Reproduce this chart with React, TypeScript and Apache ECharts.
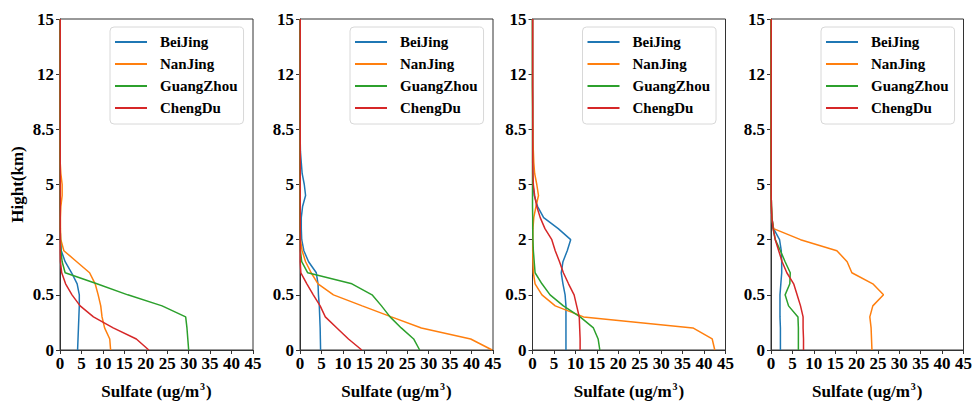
import React, { useEffect, useRef } from 'react';
import * as echarts from 'echarts';

const cities = ['BeiJing', 'NanJing', 'GuangZhou', 'ChengDu'];
const cityColors = ['#1f77b4', '#ff7f0e', '#2ca02c', '#d62728'];
const heightTickLabels = ['0', '0.5', '2', '5', '8.5', '12', '15'];

// Sulfate (ug/m3) per vertical level index 0..30 (bottom to top)
const p1BeiJing = [4.1, 4.2, 4.3, 4.4, 4.5, 4.5, 4.0, 2.7, 1.2, 0.3,
  0.1, 0.05, 0.05, 0.05, 0.05, 0.05, 0.05, 0.05, 0.05, 0.05,
  0.05, 0.05, 0.05, 0.05, 0, 0, 0, 0, 0, 0, 0];
const p1NanJing = [11.8, 11.6, 10.4, 9.8, 9.5, 8.9, 8.2, 6.9, 3.9, 0.9,
  0.2, 0.1, 0.1, 0.2, 0.5, 0.5, 0.2, 0.05, 0, 0,
  0, 0, 0, 0, 0, 0, 0, 0, 0, 0, 0];
const p1GuangZhou = [30.0, 29.8, 29.6, 29.3, 23.8, 15.8, 8.6, 1.2, 0.5, 0.2,
  0.1, 0.05, 0.05, 0, 0, 0, 0, 0, 0, 0,
  0, 0, 0, 0, 0, 0, 0, 0, 0, 0, 0];
const p1ChengDu = [20.7, 17.8, 12.4, 7.8, 4.7, 2.8, 1.3, 0.4, 0.1, 0.05,
  0.05, 0.05, 0.05, 0.05, 0.05, 0.05, 0.05, 0.05, 0.05, 0.05,
  0.05, 0.05, 0.05, 0.05, 0.05, 0.05, 0.05, 0.05, 0.05, 0.05, 0.05];

const p2BeiJing = [4.8, 4.75, 4.7, 4.6, 4.5, 4.3, 4.2, 3.8, 2.0, 0.9,
  0.4, 0.3, 0.3, 0.6, 1.3, 1.0, 0.5, 0.3, 0.1, 0.05,
  0.05, 0.05, 0, 0, 0, 0, 0, 0, 0, 0, 0];
const p2NanJing = [44.8, 39.8, 28.3, 21.3, 14.5, 7.8, 4.2, 2.6, 1.3, 0.5,
  0.1, 0.05, 0, 0, 0, 0, 0, 0, 0, 0,
  0, 0, 0, 0, 0, 0, 0, 0, 0, 0, 0];
const p2GuangZhou = [27.9, 26.5, 23.6, 21.0, 19.0, 16.8, 12.1, 1.8, 0.4, 0.1,
  0.05, 0, 0, 0, 0, 0, 0, 0, 0, 0,
  0, 0, 0, 0, 0, 0, 0, 0, 0, 0, 0];
const p2ChengDu = [14.4, 11.3, 8.6, 5.9, 4.7, 3.1, 1.6, 0.2, 0.05, 0.05,
  0.05, 0.05, 0.05, 0.05, 0.05, 0.05, 0.05, 0.05, 0.05, 0.05,
  0.05, 0.05, 0.05, 0.05, 0.05, 0.05, 0.05, 0.05, 0.05, 0.05, 0.05];

const p3BeiJing = [7.8, 7.8, 7.8, 7.8, 7.8, 7.6, 7.1, 6.7, 7.1, 8.1,
  8.9, 6.0, 2.6, 1.2, 0.4, 0.1, 0.05, 0.05, 0.05, 0.05,
  0.05, 0.05, 0.05, 0.05, 0, 0, 0, 0, 0, 0, 0];
const p3NanJing = [42.5, 41.9, 37.4, 11.9, 5.3, 2.2, 0.6, 0.2, 0.1, 0.05,
  0.05, 0.1, 0.3, 0.8, 1.4, 1.0, 0.5, 0.3, 0.2, 0.1,
  0.1, 0.05, 0.05, 0, 0, 0, 0, 0, 0, 0, 0];
const p3GuangZhou = [15.7, 15.3, 14.2, 11.1, 7.2, 4.1, 2.2, 0.6, 0.4, 0.2,
  0.1, 0.05, 0.05, 0, 0, 0, 0, 0, 0, 0,
  0, 0, 0, 0, 0, 0, 0, 0, 0, 0, 0];
const p3ChengDu = [11.1, 11.1, 11.0, 10.9, 10.3, 9.7, 8.4, 7.2, 6.3, 5.3,
  4.5, 2.9, 1.8, 1.0, 0.5, 0.2, 0.1, 0.05, 0.05, 0.05,
  0.05, 0.05, 0.05, 0.05, 0.05, 0.05, 0.05, 0.05, 0.05, 0.05, 0.05];

const p4BeiJing = [2.2, 2.2, 2.2, 2.1, 2.1, 2.1, 2.3, 2.5, 2.5, 2.4,
  2.0, 0.6, 0.2, 0.1, 0.05, 0.05, 0.05, 0, 0, 0,
  0, 0, 0, 0, 0, 0, 0, 0, 0, 0, 0];
const p4NanJing = [23.6, 23.5, 23.4, 23.1, 23.8, 26.3, 23.8, 18.9, 17.8, 15.4,
  6.9, 0.6, 0.2, 0.1, 0.05, 0.05, 0, 0, 0, 0,
  0, 0, 0, 0, 0, 0, 0, 0, 0, 0, 0];
const p4GuangZhou = [6.4, 6.4, 6.4, 6.3, 4.1, 3.3, 4.4, 4.5, 3.3, 2.2,
  1.0, 0.5, 0.2, 0.1, 0.05, 0.05, 0.05, 0, 0, 0,
  0, 0, 0, 0, 0, 0, 0, 0, 0, 0, 0];
const p4ChengDu = [7.6, 7.6, 7.5, 7.5, 6.9, 6.1, 5.3, 3.7, 2.6, 1.8,
  1.0, 0.5, 0.2, 0.1, 0.05, 0.05, 0.05, 0.05, 0.05, 0.05,
  0.05, 0.05, 0.05, 0.05, 0.05, 0.05, 0.05, 0.05, 0.05, 0.05, 0.05];

const panels = [
  [p1BeiJing, p1NanJing, p1GuangZhou, p1ChengDu],
  [p2BeiJing, p2NanJing, p2GuangZhou, p2ChengDu],
  [p3BeiJing, p3NanJing, p3GuangZhou, p3ChengDu],
  [p4BeiJing, p4NanJing, p4GuangZhou, p4ChengDu],
];

const FONT = 'Liberation Serif';
const gridLefts = [60, 300, 532.5, 771];
const gridWidth = 193;
const gridTop = 19;
const gridHeight = 334;

const tickText = { fontFamily: FONT, fontWeight: 'bold' as const, fontSize: 17, color: '#000' };

export default function App() {
  const ref = useRef<HTMLDivElement>(null);
  useEffect(() => {
    if (!ref.current) return;
    const chart = echarts.init(ref.current, null, { renderer: 'svg' });
    const grid = gridLefts.map((l) => ({
      left: l, top: gridTop, width: gridWidth, height: gridHeight,
      show: true, borderColor: '#333', borderWidth: 1, backgroundColor: 'transparent',
    }));
    const xAxis = gridLefts.map((_, p) => ({
      type: 'value', gridIndex: p, min: 0, max: 45, interval: 5,
      splitLine: { show: false },
      axisLine: { show: true, onZero: false, lineStyle: { color: '#333', width: 1 } },
      axisTick: { show: true, length: 4, lineStyle: { color: '#333' } },
      axisLabel: {
        ...tickText, margin: 5,
        formatter: (v: number) => '{t|' + v + '}',
        rich: { t: { ...tickText } },
      },
      name: '{a|Sulfate (ug/m}{s|3}{a|)}',
      nameLocation: 'middle', nameGap: 31,
      nameTextStyle: {
        rich: {
          a: { fontFamily: FONT, fontWeight: 'bold', fontSize: 17, color: '#000', lineHeight: 20 },
          s: { fontFamily: FONT, fontWeight: 'bold', fontSize: 10, color: '#000', verticalAlign: 'top', lineHeight: 20, padding: [0, 1, 10, 1] },
        },
      },
    }));
    const yAxis = gridLefts.map((_, p) => ({
      type: 'value', gridIndex: p, min: 0, max: 30, interval: 5,
      splitLine: { show: false },
      axisLine: { show: true, onZero: false, lineStyle: { color: '#333', width: 1 } },
      axisTick: { show: true, length: 4, lineStyle: { color: '#333' } },
      axisLabel: {
        ...tickText, margin: 6,
        formatter: (v: number) => '{t|' + (heightTickLabels[Math.round(v / 5)] ?? '') + '}',
        rich: { t: { ...tickText } },
      },
      name: p === 0 ? 'Hight(km)' : '',
      nameLocation: 'middle', nameGap: 34,
      nameTextStyle: { fontFamily: FONT, fontWeight: 'bold', fontSize: 17, color: '#000' },
    }));
    const legend = gridLefts.map((l) => ({
      data: cities,
      orient: 'vertical',
      left: l + 50, top: 27,
      icon: 'rect', itemWidth: 32, itemHeight: 2, itemGap: 6,
      padding: [7, 6, 8, 5],
      backgroundColor: '#fff', borderColor: '#d8d8d8', borderWidth: 1, borderRadius: 4,
      selectedMode: false,
      textStyle: { fontFamily: FONT, fontWeight: 'bold', fontSize: 15, color: '#000', lineHeight: 16, padding: [0, 0, 0, 8] },
    }));
    const series: any[] = [];
    panels.forEach((cols, p) => {
      cols.forEach((vals, c) => {
        series.push({
          type: 'line', name: cities[c], xAxisIndex: p, yAxisIndex: p,
          data: vals.map((v, i) => [v, i]),
          showSymbol: false, symbol: 'none',
          lineStyle: { color: cityColors[c], width: 1.5 },
          itemStyle: { color: cityColors[c] },
          z: 3,
        });
      });
    });
    chart.setOption({ animation: false, backgroundColor: '#fff', textStyle: { fontFamily: FONT }, grid, xAxis, yAxis, legend, series });
    return () => chart.dispose();
  }, []);
  return <div ref={ref} style={{ position: 'fixed', left: 0, top: 0, width: 975, height: 406 }} />;
}
